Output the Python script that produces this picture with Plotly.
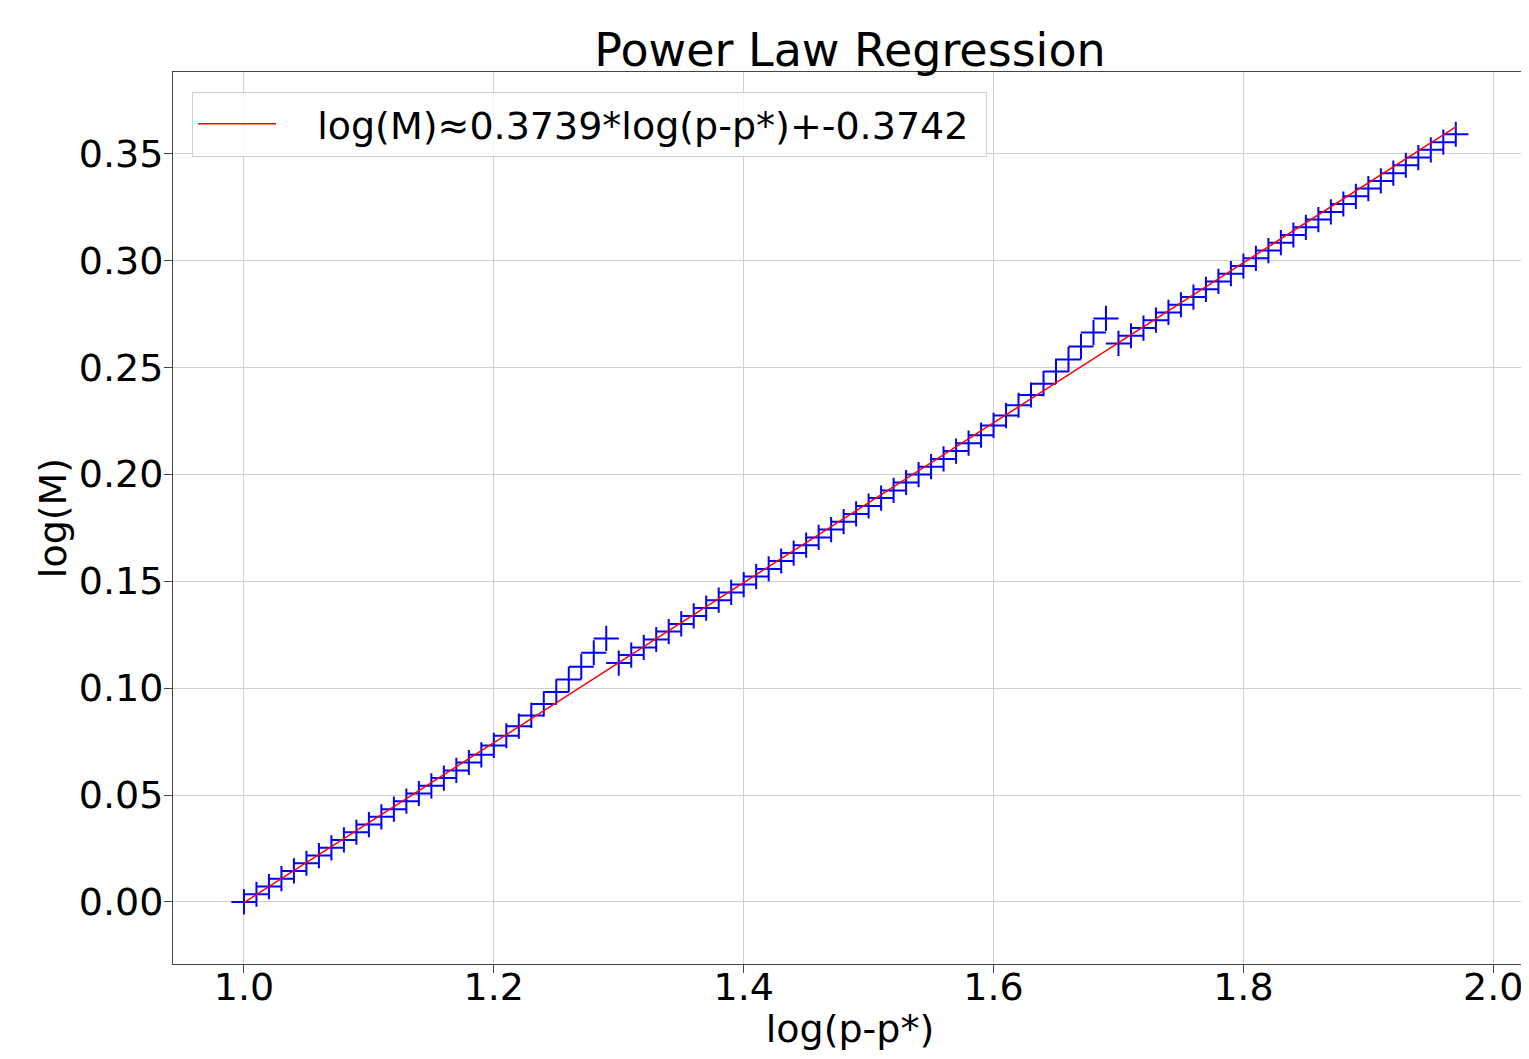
import plotly.graph_objects as go

x_vals = [round(1.00 + 0.01 * i, 2) for i in range(98)]
y_vals = [
    0.0000, 0.0036, 0.0072, 0.0109, 0.0145, 0.0181, 0.0217, 0.0253, 0.0290, 0.0326,
    0.0362, 0.0398, 0.0434, 0.0471, 0.0507, 0.0543, 0.0579, 0.0615, 0.0652, 0.0688,
    0.0732, 0.0777, 0.0822, 0.0872, 0.0926, 0.0982, 0.1040, 0.1100, 0.1165, 0.1232,
    0.1117, 0.1154, 0.1190, 0.1227, 0.1264, 0.1300, 0.1337, 0.1374, 0.1411, 0.1447,
    0.1484, 0.1521, 0.1557, 0.1594, 0.1631, 0.1668, 0.1704, 0.1741, 0.1778, 0.1814,
    0.1851, 0.1888, 0.1924, 0.1961, 0.1998, 0.2035, 0.2071, 0.2108, 0.2145, 0.2182,
    0.2228, 0.2274, 0.2322, 0.2370, 0.2423, 0.2480, 0.2536, 0.2597, 0.2662, 0.2728,
    0.2611, 0.2647, 0.2683, 0.2720, 0.2756, 0.2792, 0.2828, 0.2864, 0.2901, 0.2937,
    0.2973, 0.3009, 0.3045, 0.3082, 0.3118, 0.3154, 0.3190, 0.3226, 0.3263, 0.3299,
    0.3335, 0.3371, 0.3407, 0.3444, 0.3480, 0.3516, 0.3552, 0.3589,
]
slope = 0.3739
intercept = -0.3742
fit_label = "log(M)≈0.3739*log(p-p*)+-0.3742"

x_ticks = [1.0, 1.2, 1.4, 1.6, 1.8, 2.0]
y_ticks = [0.00, 0.05, 0.10, 0.15, 0.20, 0.25, 0.30, 0.35]

fit_y = [slope * xv + intercept for xv in x_vals]

FONT = "DejaVu Sans"
fig = go.Figure()
fig.add_trace(go.Scatter(
    x=x_vals, y=y_vals, mode="markers", showlegend=False,
    marker=dict(symbol="cross-thin", size=18, color="blue",
                line=dict(color="blue", width=2)),
))
fig.add_trace(go.Scatter(
    x=x_vals, y=fit_y, mode="lines", name="\u00a0\u00a0\u00a0" + fit_label + "\u00a0",
    line=dict(color="red", width=1.5),
))

axis_common = dict(
    showline=True, linecolor="#444", linewidth=1, mirror=True,
    showgrid=True, gridcolor="#cfcfcf", gridwidth=1,
    ticks="outside", ticklen=8, tickcolor="#444", tickwidth=1,
    zeroline=False, automargin=False,
    tickfont=dict(family=FONT, size=38, color="black"),
)
fig.update_xaxes(range=[0.9432, 2.027], tickvals=x_ticks,
                 ticktext=[f"{v:.1f}" for v in x_ticks],
                 ticklabelstandoff=-19,
                 title=dict(text="log(p-p*)", font=dict(family=FONT, size=38, color="black"), standoff=7),
                 **axis_common)
fig.update_yaxes(range=[-0.029, 0.388], tickvals=y_ticks,
                 ticktext=[f"{v:.2f}" for v in y_ticks],
                 ticklabelstandoff=-7,
                 title=dict(text="log(M)", font=dict(family=FONT, size=38, color="black"), standoff=0),
                 **axis_common)
fig.update_layout(
    width=1521, height=1043,
    margin=dict(l=165, r=2, t=64, b=87),
    paper_bgcolor="white", plot_bgcolor="white",
    title=dict(text="Power Law Regression", x=0.5, xref="paper", xanchor="center",
               y=1 - 42 / 1043, yanchor="middle", yref="container",
               font=dict(family=FONT, size=46, color="black")),
    legend=dict(x=0.0140, y=0.978, xanchor="left", yanchor="top",
                bgcolor="rgba(255,255,255,0.8)", bordercolor="#d0d0d0", borderwidth=1,
                font=dict(family=FONT, size=38, color="black"), itemwidth=78),
    font=dict(family=FONT),
)
fig.write_html("out.html")
